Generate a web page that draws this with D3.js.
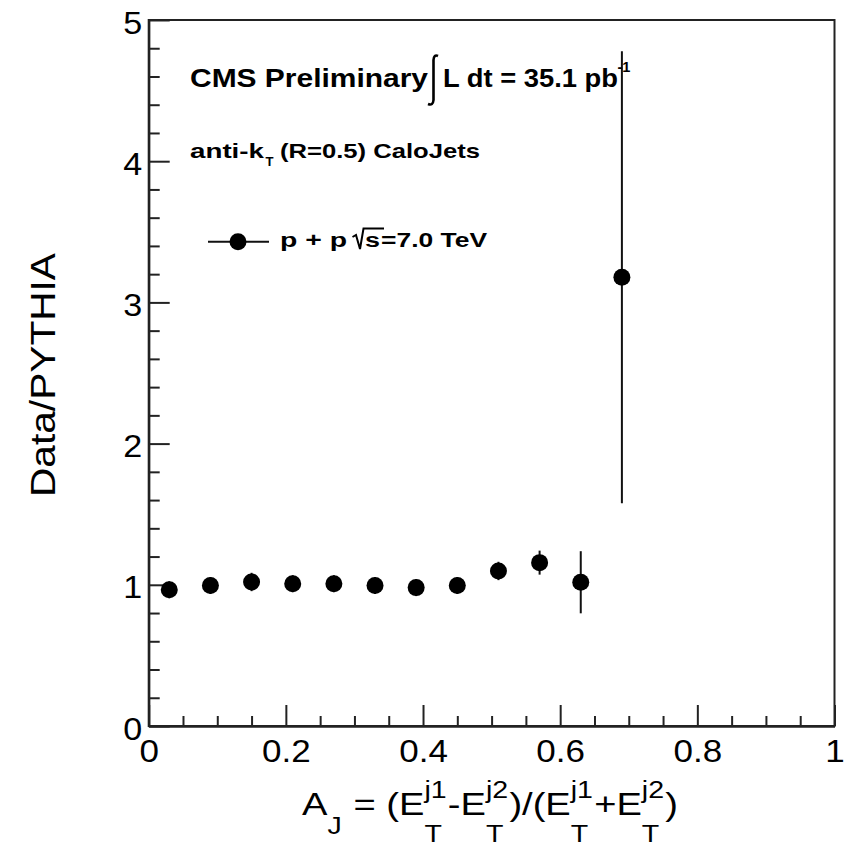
<!DOCTYPE html>
<html>
<head>
<meta charset="utf-8">
<script src="https://cdn.jsdelivr.net/npm/d3@7"></script>
<style>
  html, body { margin: 0; padding: 0; background: #fff; }
  svg { display: block; font-family: "Liberation Sans", Arial, Helvetica, sans-serif; }
  text { white-space: pre; }
</style>
</head>
<body>
<svg id="chart" width="851" height="847"></svg>
<script>
// ---- data ----
const binCenters = [0.03, 0.09, 0.15, 0.21, 0.27, 0.33, 0.39, 0.45, 0.51, 0.57, 0.63, 0.69];
const ratioValues = [0.965, 0.995, 1.02, 1.008, 1.008, 0.995, 0.98, 0.995, 1.098, 1.157, 1.018, 3.178];
const ratioErrors = [0.06, 0.06, 0.065, 0.06, 0.06, 0.06, 0.06, 0.06, 0.065, 0.085, 0.22, 1.6];
const xMajorTicks = [0, 0.2, 0.4, 0.6, 0.8, 1];
const xTickLabels = ["0", "0.2", "0.4", "0.6", "0.8", "1"];
const yMajorTicks = [0, 1, 2, 3, 4, 5];
const yTickLabels = ["0", "1", "2", "3", "4", "5"];
const xMinorTicks = [0.05,0.1,0.15,0.25,0.3,0.35,0.45,0.5,0.55,0.65,0.7,0.75,0.85,0.9,0.95];
const yMinorTicks = [0.2,0.4,0.6,0.8,1.2,1.4,1.6,1.8,2.2,2.4,2.6,2.8,3.2,3.4,3.6,3.8,4.2,4.4,4.6,4.8];

const svg = d3.select("#chart");
const L = 148.7, R = 834.5, T = 20, B = 726;
const x = d3.scaleLinear().domain([0, 1]).range([L, R]);
const y = d3.scaleLinear().domain([0, 5]).range([B, T]);
const ink = "#222";

// frame
svg.append("rect").attr("x", L).attr("y", T).attr("width", R - L).attr("height", B - T)
  .attr("fill", "none").attr("stroke", ink).attr("stroke-width", 2);

// x axis
const xAxisG = svg.append("g").attr("transform", `translate(0,${B})`)
  .call(d3.axisBottom(x).tickValues(xMajorTicks)
    .tickFormat((d, i) => xTickLabels[i]).tickSizeInner(-21).tickSizeOuter(0).tickPadding(14));
const xMinorG = svg.append("g").attr("transform", `translate(0,${B})`)
  .call(d3.axisBottom(x).tickValues(xMinorTicks).tickFormat("").tickSizeInner(-10).tickSizeOuter(0));
// y axis
const yAxisG = svg.append("g").attr("transform", `translate(${L},0)`)
  .call(d3.axisLeft(y).tickValues(yMajorTicks)
    .tickFormat((d, i) => yTickLabels[i]).tickSizeInner(-21).tickSizeOuter(0).tickPadding(6));
const yMinorG = svg.append("g").attr("transform", `translate(${L},0)`)
  .call(d3.axisLeft(y).tickValues(yMinorTicks).tickFormat("").tickSizeInner(-11).tickSizeOuter(0));

[xAxisG, xMinorG, yAxisG, yMinorG].forEach(g => {
  g.selectAll("path.domain").attr("stroke", ink).attr("stroke-width", 2);
  g.selectAll(".tick line").attr("stroke", ink).attr("stroke-width", 2);
});
xAxisG.selectAll("text").attr("font-size", 31).attr("fill", "#000")
  .attr("font-family", "Liberation Sans, Arial, sans-serif").attr("transform", "scale(1.13,1)");
yAxisG.selectAll("text").attr("font-size", 31).attr("fill", "#000")
  .attr("font-family", "Liberation Sans, Arial, sans-serif").attr("dy", "0.42em")
  .attr("transform", "scale(1.1,1)");

// error bars
const pts = binCenters.map((c, i) => ({ x: c, v: ratioValues[i], e: ratioErrors[i] }));
svg.append("g").selectAll("line").data(pts).join("line")
  .attr("x1", d => x(d.x)).attr("x2", d => x(d.x))
  .attr("y1", d => y(d.v + d.e)).attr("y2", d => y(d.v - d.e))
  .attr("stroke", "#111").attr("stroke-width", 2);
// markers
svg.append("g").selectAll("circle").data(pts).join("circle")
  .attr("cx", d => x(d.x)).attr("cy", d => y(d.v)).attr("r", 8.5).attr("fill", "#000");

// ---- helper for stretched text ----
function txt(str, px, py, size, len, bold, anchor) {
  const t = svg.append("text").attr("x", px).attr("y", py).attr("font-size", size)
    .attr("font-weight", bold ? "bold" : "normal").attr("fill", "#000").text(str);
  if (anchor) t.attr("text-anchor", anchor);
  if (len) t.attr("textLength", len).attr("lengthAdjust", "spacingAndGlyphs");
  return t;
}

// header texts
txt("CMS Preliminary", 190, 87, 25, 238, true);
// integral sign
svg.append("path")
  .attr("d", "M438,56 Q434,54 433.5,60 L433.5,100 Q433,106 428,104")
  .attr("fill", "none").attr("stroke", "#000").attr("stroke-width", 2.6);
txt("L dt = 35.1 pb", 443, 87, 25, 175, true);
txt("-1", 617.5, 72, 14, 13, true);

txt("anti-k", 190, 158, 21, 74, true);
txt("T", 265.5, 166, 12, 8, true);
txt("(R=0.5) CaloJets", 280, 158, 21, 200, true);

// legend entry
svg.append("line").attr("x1", 208).attr("x2", 269).attr("y1", 241.7).attr("y2", 241.7)
  .attr("stroke", "#111").attr("stroke-width", 2);
svg.append("circle").attr("cx", 238).attr("cy", 241.7).attr("r", 8.5).attr("fill", "#000");
txt("p + p", 280, 247, 20, 67, true);
svg.append("path").attr("d", "M352.5,237 L356,235 L360,249 L363.5,228.5 L384,228.5")
  .attr("fill", "none").attr("stroke", "#000").attr("stroke-width", 2);
txt("s", 365, 247, 20, 15, true);
txt("=7.0 TeV", 381, 247, 20, 106, true);

// y title
svg.append("text").attr("transform", "translate(55,375) rotate(-90)")
  .attr("text-anchor", "middle").attr("font-size", 35).attr("fill", "#000")
  .attr("textLength", 244).attr("lengthAdjust", "spacingAndGlyphs").text("Data/PYTHIA");

// x title with sub/superscripts, laid out then fitted to width
(function () {
  const g = svg.append("g");
  const main = 32, small = 24;
  const pieces = [
    { t: "A" }, { sub: "J", subDy: 19 }, { t: " = (E" }, { sub: "T", sup: "j1" },
    { t: "-E" }, { sub: "T", sup: "j2" }, { t: ")/(E" }, { sub: "T", sup: "j1" },
    { t: "+E" }, { sub: "T", sup: "j2" }, { t: ")" }
  ];
  let cx = 0;
  pieces.forEach(p => {
    if (p.t) {
      const e = g.append("text").attr("x", cx).attr("y", 0).attr("font-size", main).text(p.t);
      cx += e.node().getComputedTextLength();
    } else {
      let w = 0;
      const e1 = g.append("text").attr("x", cx).attr("y", p.subDy || 27).attr("font-size", small).text(p.sub);
      w = Math.max(w, e1.node().getComputedTextLength());
      if (p.sup) {
        const e2 = g.append("text").attr("x", cx).attr("y", -17).attr("font-size", small).text(p.sup);
        w = Math.max(w, e2.node().getComputedTextLength());
      }
      cx += w + 1;
    }
  });
  const bb = g.node().getBBox();
  const target = 678 - 302;
  const sx = target / bb.width;
  g.attr("transform", `translate(${302 - bb.x * sx},815) scale(${sx},1)`);
})();
</script>
</body>
</html>
